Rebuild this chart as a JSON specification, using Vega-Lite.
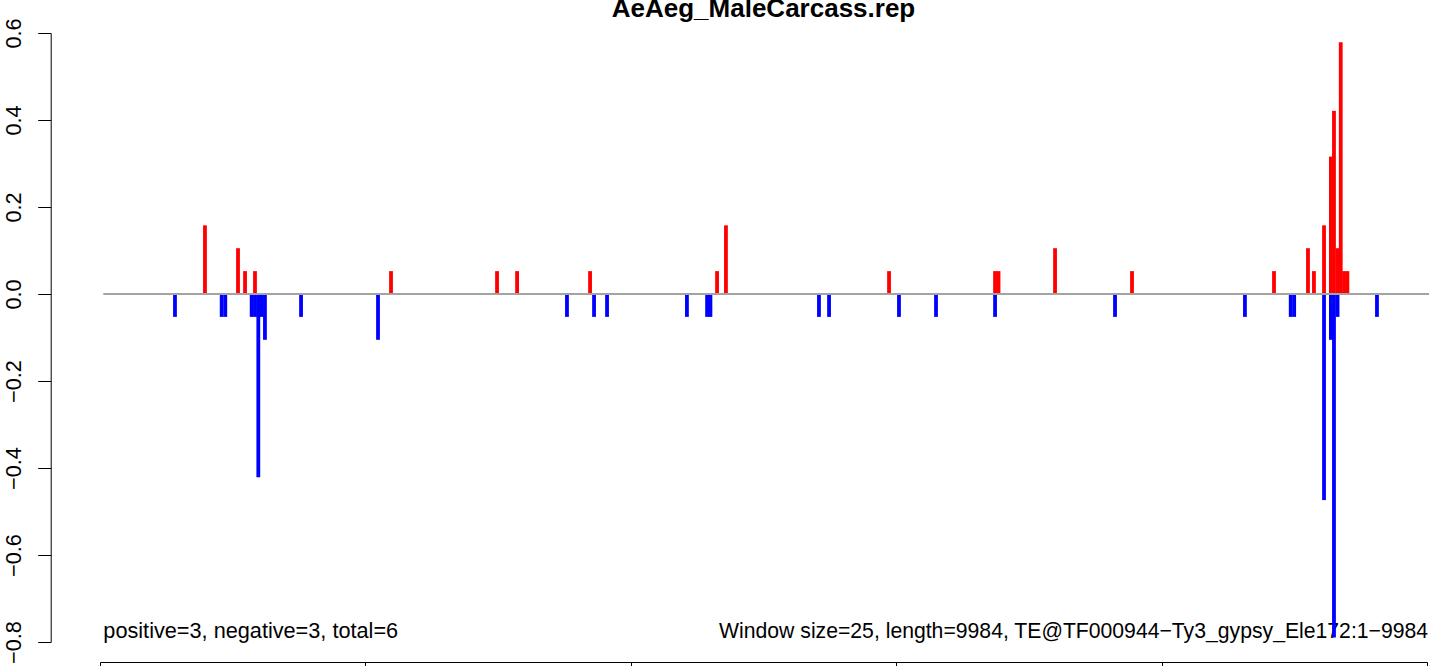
{
  "$schema": "https://vega.github.io/schema/vega-lite/v6.json",
  "width": 1327,
  "height": 609,
  "autosize": {"type": "none"},
  "padding": {"left": 100, "top": 33, "right": 2, "bottom": 24},
  "background": "white",
  "config": {"font": "Liberation Sans", "view": {"stroke": null}},
  "title": {"text": "AeAeg_MaleCarcass.rep", "font": "Liberation Sans", "fontSize": 26, "fontWeight": "bold", "anchor": "middle", "frame": "group", "baseline": "alphabetic", "offset": -25, "color": "black"},
  "encoding": {
    "x": {"field": "x", "type": "quantitative", "scale": {"domain": [0, 10000], "nice": false, "zero": false},
      "axis": {"title": null, "offset": 20, "values": [0, 2000, 4000, 6000, 8000, 10000], "labels": false, "grid": false, "domainColor": "black", "tickColor": "black", "tickSize": 10}},
    "y": {"field": "y", "type": "quantitative", "scale": {"domain": [-0.8, 0.6], "nice": false, "zero": false},
      "axis": {"title": null, "offset": 49.3, "values": [-0.8, -0.6, -0.4, -0.2, 0, 0.2, 0.4, 0.6], "format": ".1f", "grid": false, "labelAngle": -90, "labelAlign": "center", "labelBaseline": "alphabetic", "labelPadding": 17.7, "tickSize": 13, "labelFontSize": 21.7, "labelColor": "black", "domainColor": "black", "tickColor": "black", "labelFlush": false, "labelOverlap": false, "labelBound": false, "labelFont": "Liberation Sans"}}
  },
  "layer": [
    {
      "data": {"values": [{"x": 25, "y": -0.7908, "t": "positive=3, negative=3, total=6"}]},
      "mark": {"type": "text", "align": "left", "baseline": "alphabetic", "fontSize": 21.7, "font": "Liberation Sans", "color": "black"},
      "encoding": {"text": {"field": "t"}}
    },
    {
      "data": {"values": [{"x": 10008, "y": -0.7908, "t": "Window size=25, length=9984, TE@TF000944−Ty3_gypsy_Ele172:1−9984"}]},
      "mark": {"type": "text", "align": "right", "baseline": "alphabetic", "fontSize": 21.2, "font": "Liberation Sans", "color": "black"},
      "encoding": {"text": {"field": "t"}}
    },
    {
      "data": {"values": [
        {"x": 791, "y": 0.1579}, {"x": 1040, "y": 0.1053}, {"x": 1093, "y": 0.0526}, {"x": 1168, "y": 0.0526},
        {"x": 2193, "y": 0.0526}, {"x": 2992, "y": 0.0526}, {"x": 3143, "y": 0.0526}, {"x": 3693, "y": 0.0526},
        {"x": 4650, "y": 0.0526}, {"x": 4717, "y": 0.1579}, {"x": 5946, "y": 0.0526}, {"x": 6745, "y": 0.0526},
        {"x": 6771, "y": 0.0526}, {"x": 7197, "y": 0.1053}, {"x": 7777, "y": 0.0526}, {"x": 8847, "y": 0.0526},
        {"x": 9103, "y": 0.1053}, {"x": 9148, "y": 0.0526}, {"x": 9224, "y": 0.1579}, {"x": 9276, "y": 0.3158},
        {"x": 9299, "y": 0.4211}, {"x": 9326, "y": 0.1053}, {"x": 9350, "y": 0.5789}, {"x": 9375, "y": 0.0526},
        {"x": 9400, "y": 0.0526},
        {"x": 565, "y": -0.0526}, {"x": 917, "y": -0.0526}, {"x": 944, "y": -0.0526}, {"x": 1143, "y": -0.0526},
        {"x": 1168, "y": -0.0526}, {"x": 1193, "y": -0.4211}, {"x": 1218, "y": -0.0526}, {"x": 1243, "y": -0.1053},
        {"x": 1515, "y": -0.0526}, {"x": 2095, "y": -0.1053}, {"x": 3519, "y": -0.0526}, {"x": 3723, "y": -0.0526},
        {"x": 3821, "y": -0.0526}, {"x": 4423, "y": -0.0526}, {"x": 4575, "y": -0.0526}, {"x": 4600, "y": -0.0526},
        {"x": 5418, "y": -0.0526}, {"x": 5494, "y": -0.0526}, {"x": 6021, "y": -0.0526}, {"x": 6300, "y": -0.0526},
        {"x": 6745, "y": -0.0526}, {"x": 7649, "y": -0.0526}, {"x": 8628, "y": -0.0526}, {"x": 8973, "y": -0.0526},
        {"x": 8999, "y": -0.0526}, {"x": 9224, "y": -0.4737}, {"x": 9276, "y": -0.1053}, {"x": 9299, "y": -0.7895},
        {"x": 9326, "y": -0.0526}, {"x": 9623, "y": -0.0526}
      ]},
      "mark": {"type": "rule", "strokeWidth": 3.8, "strokeCap": "butt"},
      "encoding": {
        "y2": {"datum": 0},
        "color": {"condition": {"test": "datum.y > 0", "value": "#ff0000"}, "value": "#0000ff"}
      }
    },
    {
      "data": {"values": [{"x": 25, "x2": 10040, "y": 0}]},
      "mark": {"type": "rule", "color": "#a3a3a3", "strokeWidth": 2},
      "encoding": {"x2": {"field": "x2"}}
    }
  ]
}
